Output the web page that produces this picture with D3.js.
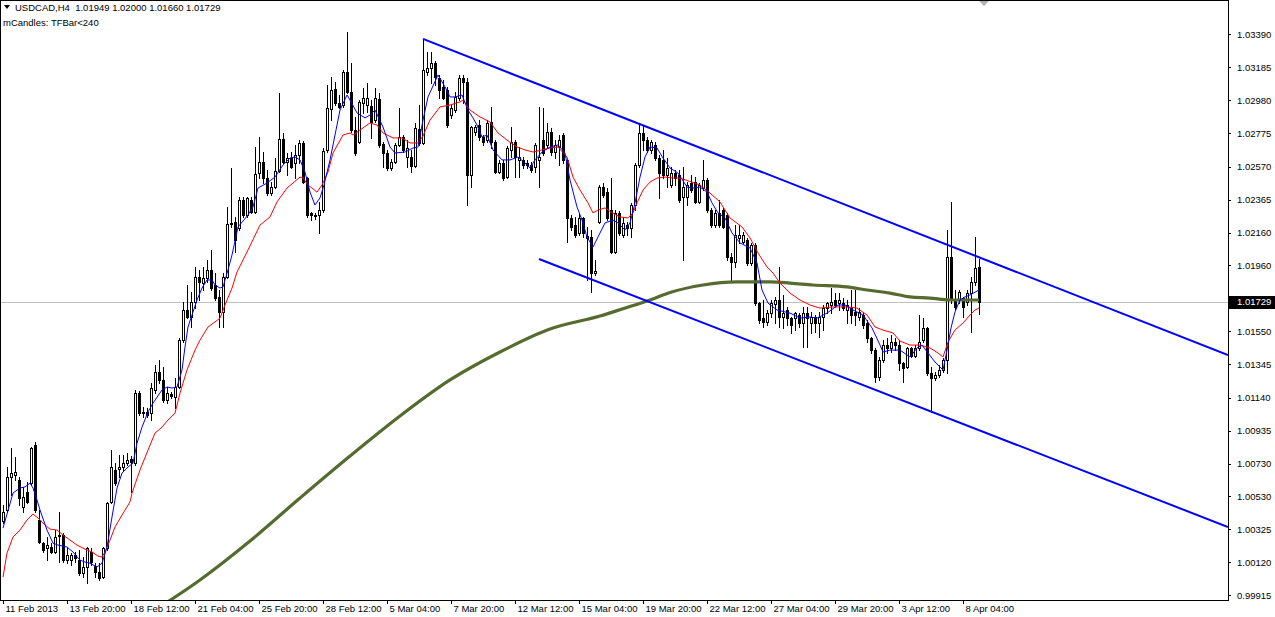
<!DOCTYPE html>
<html><head><meta charset="utf-8">
<script src="https://cdn.jsdelivr.net/npm/d3@7"></script>
<style>
html,body{margin:0;padding:0;background:#fff;}
svg{display:block;}
text{font-family:"Liberation Sans",Arial,sans-serif;}
</style></head><body>
<svg id="chart" width="1275" height="617"></svg>
<script>
// ---------------- DATA ----------------
const symbolTitle = "USDCAD,H4";
const headerOHLC = ["1.01949","1.02000","1.01660","1.01729"];
const indicatorTitle = "mCandles: TFBar<240";

const timeLabels = ["11 Feb 2013","13 Feb 20:00","18 Feb 12:00","21 Feb 04:00","25 Feb 20:00","28 Feb 12:00","5 Mar 04:00","7 Mar 20:00","12 Mar 12:00","15 Mar 04:00","19 Mar 20:00","22 Mar 12:00","27 Mar 04:00","29 Mar 20:00","3 Apr 12:00","8 Apr 04:00"];
const timeLabelBars = [0,16,32,48,64,80,96,112,128,144,160,176,192,208,224,240];

const priceTicks = [1.03390,1.03185,1.02980,1.02775,1.02570,1.02365,1.02160,1.01960,1.01755,1.01550,1.01345,1.01140,1.00935,1.00730,1.00530,1.00325,1.00120,0.99915];

const open = [
1.00376,1.00444,1.00649,1.00661,1.00630,1.00463,1.00556,1.00611,1.00846,1.00382,
1.00239,1.00208,1.00215,1.00184,1.00283,1.00289,1.00134,1.00134,1.00165,1.00134,
1.00053,1.00091,1.00184,1.00097,1.00060,1.00029,1.00208,1.00494,1.00692,1.00698,
1.00710,1.00734,1.00759,1.00734,1.01168,1.01044,1.01051,1.01044,1.01187,1.01299,
1.01249,1.01125,1.01162,1.01143,1.01205,1.01496,1.01682,1.01639,1.01732,1.01887,
1.01849,1.01880,1.01930,1.01837,1.01763,1.01670,1.01887,1.02214,1.02227,1.02190,
1.02363,1.02270,1.02363,1.02289,1.02530,1.02599,1.02499,1.02406,1.02443,1.02543,
1.02740,1.02599,1.02623,1.02592,1.02642,1.02716,1.02499,1.02283,1.02270,1.02270,
1.02301,1.02673,1.02926,1.03050,1.02963,1.02951,1.03156,1.03032,1.02796,1.02722,
1.02963,1.02951,1.02945,1.02858,1.02988,1.02710,1.02654,1.02561,1.02599,1.02704,
1.02753,1.02629,1.02629,1.02574,1.02803,1.02716,1.03156,1.03180,1.03211,1.03118,
1.03063,1.03044,1.02889,1.02920,1.02994,1.03118,1.03094,1.02518,1.02784,1.02827,
1.02753,1.02734,1.02846,1.02722,1.02536,1.02592,1.02505,1.02673,1.02722,1.02611,
1.02611,1.02592,1.02580,1.02567,1.02611,1.02734,1.02704,1.02784,1.02660,1.02691,
1.02765,1.02611,1.02252,1.02208,1.02159,1.02252,1.02128,1.02134,1.01911,1.02227,
1.02443,1.02412,1.02301,1.02041,1.02283,1.02146,1.02208,1.02190,1.02332,1.02580,
1.02778,1.02734,1.02673,1.02704,1.02623,1.02611,1.02518,1.02456,1.02530,1.02518,
1.02382,1.02382,1.02468,1.02474,1.02351,1.02437,1.02487,1.02301,1.02208,1.02283,
1.02301,1.02270,1.02010,1.01980,1.02128,1.02103,1.02115,1.01973,1.02085,1.01725,
1.01632,1.01608,1.01663,1.01719,1.01744,1.01639,1.01682,1.01632,1.01632,1.01651,
1.01601,1.01663,1.01601,1.01639,1.01601,1.01639,1.01694,1.01713,1.01744,1.01725,
1.01725,1.01682,1.01694,1.01670,1.01639,1.01651,1.01601,1.01508,1.01434,1.01267,
1.01373,1.01465,1.01447,1.01484,1.01465,1.01354,1.01330,1.01447,1.01397,1.01447,
1.01496,1.01571,1.01292,1.01261,1.01280,1.01311,1.01373,1.02010,1.01744,1.01744,
1.01756,1.01732,1.01787,1.01856,1.01949];

const high = [
1.00475,1.00710,1.00827,1.00772,1.00649,1.00587,1.00618,1.00834,1.00865,1.00444,
1.00246,1.00277,1.00239,1.00320,1.00432,1.00301,1.00208,1.00177,1.00184,1.00196,
1.00153,1.00215,1.00208,1.00115,1.00115,1.00215,1.00494,1.00815,1.00734,1.00784,
1.00784,1.00796,1.00778,1.01187,1.01181,1.01082,1.01076,1.01230,1.01342,1.01373,
1.01330,1.01205,1.01174,1.01261,1.01508,1.01732,1.01837,1.01794,1.01949,1.01930,
1.01949,1.01992,1.02053,1.01911,1.01806,1.01911,1.02320,1.02561,1.02258,1.02382,
1.02382,1.02382,1.02382,1.02691,1.02753,1.02660,1.02549,1.02474,1.02623,1.03025,
1.02778,1.02654,1.02660,1.02704,1.02734,1.02728,1.02505,1.02289,1.02283,1.02351,
1.02685,1.03075,1.03125,1.03094,1.03013,1.03168,1.03403,1.03211,1.02877,1.02982,
1.03056,1.03087,1.02982,1.03056,1.03025,1.02722,1.02673,1.02617,1.02716,1.02932,
1.02765,1.02734,1.02673,1.02840,1.02951,1.03360,1.03279,1.03279,1.03223,1.03137,
1.03106,1.03063,1.02951,1.03032,1.03137,1.03137,1.03118,1.02821,1.02827,1.02858,
1.02765,1.02858,1.02939,1.02734,1.02611,1.02611,1.02697,1.02815,1.02734,1.02691,
1.02629,1.02611,1.02599,1.02716,1.02939,1.02932,1.02840,1.02809,1.02734,1.02765,
1.02778,1.02623,1.02270,1.02258,1.02283,1.02258,1.02196,1.02177,1.01992,1.02456,
1.02468,1.02437,1.02499,1.02301,1.02295,1.02258,1.02227,1.02345,1.02592,1.02827,
1.02821,1.02753,1.02734,1.02722,1.02642,1.02673,1.02623,1.02567,1.02549,1.02549,
1.02567,1.02474,1.02518,1.02505,1.02468,1.02611,1.02499,1.02314,1.02301,1.02363,
1.02320,1.02283,1.02035,1.02208,1.02208,1.02165,1.02128,1.02097,1.02097,1.01732,
1.01744,1.01682,1.01744,1.01763,1.01949,1.01775,1.01701,1.01639,1.01670,1.01663,
1.01701,1.01701,1.01670,1.01651,1.01670,1.01713,1.01732,1.01818,1.01787,1.01787,
1.01756,1.01744,1.01806,1.01806,1.01694,1.01663,1.01620,1.01515,1.01447,1.01391,
1.01496,1.01509,1.01527,1.01509,1.01496,1.01360,1.01453,1.01453,1.01465,1.01651,
1.01632,1.01577,1.01330,1.01299,1.01342,1.01385,1.02177,1.02351,1.01806,1.01806,
1.01763,1.01806,1.01886,1.02134,1.02000];

const low = [
1.00363,1.00432,1.00537,1.00630,1.00475,1.00432,1.00487,1.00599,1.00432,1.00239,
1.00184,1.00134,1.00177,1.00177,1.00122,1.00122,1.00115,1.00103,1.00122,1.00041,
1.00029,0.99992,1.00103,1.00029,1.00011,1.00023,1.00196,1.00487,1.00599,1.00649,
1.00692,1.00722,1.00556,1.00722,1.01032,1.01020,1.01020,1.01001,1.01168,1.01230,
1.01113,1.01106,1.01137,1.01076,1.01199,1.01484,1.01632,1.01577,1.01694,1.01744,
1.01806,1.01856,1.01806,1.01744,1.01577,1.01577,1.01880,1.02196,1.02041,1.02177,
1.02258,1.02258,1.02283,1.02283,1.02499,1.02468,1.02394,1.02394,1.02437,1.02536,
1.02592,1.02518,1.02561,1.02499,1.02592,1.02468,1.02258,1.02239,1.02245,1.02159,
1.02289,1.02660,1.02858,1.02951,1.02932,1.02939,1.03025,1.02784,1.02642,1.02716,
1.02901,1.02908,1.02747,1.02846,1.02691,1.02567,1.02549,1.02549,1.02592,1.02697,
1.02660,1.02567,1.02536,1.02567,1.02704,1.02710,1.03137,1.03087,1.03075,1.02994,
1.02988,1.02815,1.02871,1.02908,1.02982,1.02963,1.02332,1.02443,1.02765,1.02734,
1.02704,1.02722,1.02685,1.02530,1.02530,1.02487,1.02499,1.02629,1.02505,1.02505,
1.02561,1.02561,1.02536,1.02536,1.02443,1.02642,1.02685,1.02642,1.02623,1.02580,
1.02592,1.02103,1.02177,1.02134,1.02146,1.02134,1.01868,1.01794,1.01899,1.02221,
1.02382,1.02239,1.02035,1.02035,1.02146,1.02134,1.02146,1.02134,1.02301,1.02567,
1.02673,1.02660,1.02654,1.02611,1.02376,1.02499,1.02443,1.02443,1.02456,1.02351,
1.01992,1.02332,1.02412,1.02345,1.02345,1.02425,1.02289,1.02196,1.02196,1.02196,
1.02190,1.01992,1.01856,1.01949,1.02097,1.02097,1.01961,1.01961,1.01713,1.01601,
1.01577,1.01589,1.01639,1.01601,1.01577,1.01571,1.01589,1.01540,1.01558,1.01577,
1.01453,1.01453,1.01540,1.01546,1.01515,1.01558,1.01663,1.01663,1.01701,1.01682,
1.01682,1.01601,1.01601,1.01589,1.01620,1.01571,1.01484,1.01416,1.01236,1.01249,
1.01360,1.01416,1.01422,1.01434,1.01311,1.01236,1.01323,1.01391,1.01391,1.01434,
1.01484,1.01280,1.01051,1.01249,1.01267,1.01299,1.01292,1.01725,1.01682,1.01725,
1.01639,1.01713,1.01546,1.01837,1.01660];

const close = [
1.00432,1.00649,1.00673,1.00680,1.00518,1.00525,1.00494,1.00827,1.00444,1.00246,
1.00196,1.00227,1.00184,1.00277,1.00289,1.00134,1.00165,1.00165,1.00146,1.00053,
1.00091,1.00208,1.00122,1.00060,1.00023,1.00208,1.00487,1.00710,1.00611,1.00710,
1.00734,1.00753,1.00741,1.01168,1.01044,1.01051,1.01032,1.01199,1.01299,1.01249,
1.01125,1.01168,1.01150,1.01205,1.01496,1.01682,1.01639,1.01732,1.01887,1.01856,
1.01880,1.01930,1.01818,1.01756,1.01670,1.01887,1.02214,1.02221,1.02115,1.02363,
1.02270,1.02376,1.02289,1.02524,1.02599,1.02499,1.02406,1.02443,1.02543,1.02740,
1.02599,1.02623,1.02567,1.02642,1.02716,1.02474,1.02270,1.02270,1.02264,1.02301,
1.02666,1.02932,1.03044,1.02963,1.02939,1.03156,1.03032,1.02796,1.02654,1.02970,
1.02994,1.02994,1.02846,1.02994,1.02704,1.02654,1.02561,1.02599,1.02704,1.02753,
1.02673,1.02685,1.02574,1.02809,1.02716,1.03168,1.03180,1.03211,1.03125,1.03044,
1.02994,1.02827,1.02932,1.03001,1.03118,1.03094,1.02518,1.02815,1.02815,1.02753,
1.02722,1.02840,1.02722,1.02536,1.02592,1.02499,1.02685,1.02722,1.02629,1.02629,
1.02580,1.02580,1.02549,1.02704,1.02629,1.02654,1.02784,1.02660,1.02704,1.02734,
1.02611,1.02252,1.02196,1.02146,1.02252,1.02159,1.02140,1.01911,1.01924,1.02443,
1.02394,1.02252,1.02041,1.02283,1.02159,1.02221,1.02190,1.02332,1.02580,1.02778,
1.02734,1.02673,1.02722,1.02623,1.02530,1.02518,1.02561,1.02530,1.02499,1.02363,
1.02443,1.02456,1.02425,1.02351,1.02456,1.02487,1.02301,1.02208,1.02283,1.02208,
1.02196,1.02010,1.01980,1.02146,1.02146,1.02146,1.01973,1.02085,1.01725,1.01620,
1.01608,1.01663,1.01725,1.01744,1.01639,1.01663,1.01632,1.01589,1.01663,1.01601,
1.01663,1.01632,1.01639,1.01601,1.01639,1.01694,1.01725,1.01732,1.01713,1.01744,
1.01694,1.01713,1.01651,1.01651,1.01670,1.01589,1.01508,1.01434,1.01267,1.01373,
1.01465,1.01447,1.01484,1.01465,1.01354,1.01323,1.01447,1.01397,1.01447,1.01484,
1.01571,1.01292,1.01261,1.01280,1.01311,1.01373,1.02010,1.01744,1.01701,1.01794,
1.01701,1.01787,1.01856,1.01942,1.01729];

// fast moving average (blue) at bar positions
const maFastBars = [0,2.5,4.25,5.5,6.75,7.5,8.5,9.25,11,12.5,
13.75,16,17.5,19.25,20.5,21.75,23.5,24.75,26,27.25,
28.5,29.75,31.25,32.5,33.5,34.75,36.25,37.5,39.75,41,
42.25,43.5,44.75,45.5,46.25,47.5,48.5,49.75,51,52.25,
53,54.25,55,56.25,57.25,58.75,61.25,62.5,63.75,66,
68,70,71.75,73,74.25,75.5,76.75,78,79.25,80.25,
81.75,83,84.25,86,86.75,88.5,90.5,91.75,93,95,
96.75,98,100.5,102.5,103.75,105,106.25,108.75,110.5,111.75,
113,114.75,116.25,117.5,118.5,119.75,121,122.5,124.75,126.75,
128.75,130.5,131.75,133,134.75,136.75,138.75,140.5,141.75,143.5,
144.75,146,147.5,148.75,150.5,152.5,153.75,155.5,156.75,158,
159.25,160.5,161.75,163.5,165,166.75,168.75,171,172.5,174.25,
176,177.25,178.75,180.5,182.25,184.25,186.75,188.5,189.75,191.25,
193.5,196.75,199.25,201.75,203.5,206,208.75,210.5,212.5,215,
217.25,219.25,220,221.75,224.25,226.75,228.5,229.75,231.25,233,
235,236,237,238,239.25,240.5,241.75,244];
const maFastVals = [1.00332,1.00549,1.00580,1.00587,1.00611,1.00580,1.00506,1.00444,1.00320,1.00239,
1.00227,1.00215,1.00184,1.00134,1.00122,1.00115,1.00091,1.00115,1.00215,1.00401,
1.00580,1.00673,1.00710,1.00734,1.00858,1.00957,1.01051,1.01106,1.01187,1.01205,
1.01199,1.01205,1.01311,1.01453,1.01577,1.01670,1.01744,1.01818,1.01868,1.01868,
1.01837,1.01818,1.01825,1.01930,1.02023,1.02196,1.02270,1.02320,1.02437,1.02468,
1.02505,1.02580,1.02623,1.02629,1.02611,1.02536,1.02412,1.02332,1.02376,1.02456,
1.02611,1.02765,1.02920,1.03013,1.02982,1.02902,1.02871,1.02889,1.02920,1.02815,
1.02691,1.02654,1.02660,1.02685,1.02691,1.02858,1.03001,1.03137,1.03063,1.03001,
1.03001,1.03013,1.02920,1.02871,1.02827,1.02753,1.02765,1.02673,1.02611,1.02611,
1.02629,1.02592,1.02561,1.02611,1.02660,1.02691,1.02704,1.02654,1.02487,1.02320,
1.02239,1.02134,1.02072,1.02134,1.02221,1.02239,1.02221,1.02177,1.02221,1.02345,
1.02505,1.02629,1.02691,1.02685,1.02623,1.02561,1.02530,1.02443,1.02437,1.02443,
1.02412,1.02345,1.02283,1.02252,1.02159,1.02097,1.02066,1.01973,1.01806,1.01725,
1.01682,1.01663,1.01632,1.01639,1.01632,1.01663,1.01713,1.01713,1.01682,1.01651,
1.01571,1.01465,1.01422,1.01434,1.01434,1.01391,1.01447,1.01465,1.01416,1.01360,
1.01311,1.01434,1.01571,1.01670,1.01744,1.01763,1.01775,1.01806];

// slower moving average (red)
const maSlowBars = [0,1,2.5,4.25,6,7.5,8.75,10.5,11.75,13.5,
15,16.75,18.5,20.5,22.25,23.75,24.75,25.5,26.75,28,
29.75,31.75,32.25,34.25,36.25,38,39.75,41.25,43,44.25,
46,48,49.25,51.25,53,54.25,55.5,57.25,58.5,61,
64.25,66.75,68.5,71,72.5,74.25,75,76.25,78.5,79.75,
81.25,82.5,85,86.75,87.5,89.25,91.75,93.5,95,97.5,
99.75,101.75,103.75,105,106.75,109.25,111.75,114.25,115,116.75,
119.25,121.75,123.75,126,128.5,130.5,132.5,134.75,136.75,138.75,
141,142.5,144.25,146.25,147.5,148.75,150.5,152.25,154.25,156.25,
157.5,158.5,160,161.75,163.5,165.5,167.5,169.25,174.25,176.75,
179.25,181.75,184.75,186.75,188.75,191,192.5,194.25,196.75,199.25,
201.75,204.25,207.5,211,213.5,216,218,220,222.5,224.25,
226.75,229.25,231.75,233.75,235,236.25,238,240,241.75,243,
244];
const maSlowVals = [1.00029,1.00177,1.00277,1.00320,1.00382,1.00419,1.00395,1.00351,1.00326,1.00320,
1.00289,1.00258,1.00227,1.00202,1.00184,1.00159,1.00153,1.00184,1.00258,1.00339,
1.00413,1.00494,1.00549,1.00692,1.00815,1.00920,1.00957,1.01001,1.01044,1.01168,
1.01311,1.01434,1.01496,1.01577,1.01608,1.01632,1.01713,1.01818,1.01917,1.02041,
1.02208,1.02258,1.02351,1.02437,1.02468,1.02505,1.02499,1.02456,1.02412,1.02456,
1.02536,1.02654,1.02765,1.02778,1.02765,1.02796,1.02840,1.02827,1.02778,1.02747,
1.02747,1.02716,1.02716,1.02759,1.02858,1.02939,1.02951,1.02970,1.02982,1.02920,
1.02877,1.02846,1.02778,1.02734,1.02691,1.02673,1.02660,1.02673,1.02685,1.02691,
1.02629,1.02505,1.02425,1.02345,1.02283,1.02301,1.02314,1.02283,1.02258,1.02252,
1.02283,1.02345,1.02425,1.02474,1.02499,1.02505,1.02499,1.02499,1.02456,1.02406,
1.02351,1.02252,1.02196,1.02128,1.02035,1.01949,1.01911,1.01849,1.01787,1.01744,
1.01713,1.01694,1.01701,1.01701,1.01694,1.01651,1.01577,1.01558,1.01540,1.01490,
1.01465,1.01465,1.01447,1.01416,1.01391,1.01484,1.01558,1.01601,1.01651,1.01682,
1.01694];

// long moving average (thick olive)
const maLongBars = [39.25,49.25,61.75,74.25,86.75,99.25,111.75,124.25,136.75,149.25,155,161.75,166.75,175,183.5,191.75,196.75,202.5,211,216,221.75,226.75,231.75,236.75,244];
const maLongVals = [0.99844,1.00011,1.00252,1.00518,1.00778,1.01026,1.01249,1.01422,1.01564,1.01645,1.01690,1.01744,1.01790,1.01837,1.01856,1.01856,1.01849,1.01837,1.01825,1.01806,1.01787,1.01763,1.01756,1.01744,1.01744];

// channel trend lines (two anchors each, drawn as rays)
const channelUpperBars = [105,159];
const channelUpperPrices = [1.03360,1.02835];
const channelLowerBars = [134,232];
const channelLowerPrices = [1.01998,1.01054];

// ---------------- DRAW ----------------
const W = 1275, H = 617, plotW = 1228, plotH = 600;
const FONT = "9.5px";
const svg = d3.select("#chart");
svg.append("rect").attr("width",W).attr("height",H).attr("fill","#fff");

const lastBar = 306.25;
const x = d3.scaleLinear().domain([-0.75, lastBar]).range([0, plotW]);
const y = d3.scaleLinear().domain([0.99887, 1.03601]).range([plotH, 0]);

svg.append("defs").append("clipPath").attr("id","plotclip")
  .append("rect").attr("x",0).attr("y",0).attr("width",plotW).attr("height",plotH);
const plot = svg.append("g").attr("clip-path","url(#plotclip)");

const n = Math.min(open.length, high.length, low.length, close.length);
const lastClose = close[n-1];

// current price line
plot.append("line")
  .attr("x1",0).attr("x2",plotW)
  .attr("y1",Math.round(y(lastClose))+0.5).attr("y2",Math.round(y(lastClose))+0.5)
  .attr("stroke","#c0c0c0").attr("stroke-width",1).attr("shape-rendering","crispEdges");

// candles
const cg = plot.append("g").attr("shape-rendering","crispEdges");
const idx = d3.range(n);
cg.selectAll("rect.wick").data(idx).join("rect").attr("class","wick")
  .attr("x", i => Math.round(x(i)))
  .attr("width",1)
  .attr("y", i => Math.round(y(high[i])))
  .attr("height", i => Math.max(1, Math.round(y(low[i])) - Math.round(y(high[i])) + 1))
  .attr("fill","#000");
cg.selectAll("rect.body").data(idx).join("rect").attr("class","body")
  .each(function(i){
    const xc = Math.round(x(i));
    const top = Math.round(y(Math.max(open[i],close[i])));
    const bot = Math.round(y(Math.min(open[i],close[i])));
    const s = d3.select(this);
    if (close[i] >= open[i]) {
      s.attr("x", xc-0.5).attr("y", top+0.5).attr("width",2).attr("height", Math.max(0, bot-top))
       .attr("fill","#fff").attr("stroke","#000").attr("stroke-width",1);
    } else {
      s.attr("x", xc-1).attr("y", top).attr("width",3).attr("height", Math.max(1, bot-top+1))
       .attr("fill","#000");
    }
  });

// moving averages
const line = d3.line().x(d => x(d[0])).y(d => y(d[1]));
plot.append("path").datum(d3.zip(maLongBars, maLongVals))
  .attr("d", d3.line().x(d=>x(d[0])).y(d=>y(d[1])).curve(d3.curveMonotoneX))
  .attr("fill","none").attr("stroke","#556b2f").attr("stroke-width",3.2);
plot.append("path").datum(d3.zip(maSlowBars, maSlowVals))
  .attr("d", line).attr("fill","none").attr("stroke","#ff0000").attr("stroke-width",1);
plot.append("path").datum(d3.zip(maFastBars, maFastVals))
  .attr("d", line).attr("fill","none").attr("stroke","#0000ff").attr("stroke-width",1);

// channel rays
function ray(bars, prices){
  const slope = (prices[1]-prices[0])/(bars[1]-bars[0]);
  const endP = prices[0] + slope*(lastBar - bars[0]);
  return [[bars[0],prices[0]],[lastBar,endP]];
}
[ray(channelUpperBars,channelUpperPrices), ray(channelLowerBars,channelLowerPrices)].forEach(seg=>{
  plot.append("path").datum(seg).attr("d", line)
    .attr("fill","none").attr("stroke","#0000ff").attr("stroke-width",2);
});

// frame
svg.append("rect").attr("x",0.5).attr("y",0.5).attr("width",plotW).attr("height",plotH)
  .attr("fill","none").attr("stroke","#000").attr("stroke-width",1).attr("shape-rendering","crispEdges");

// right price axis
const py = Math.round(y(lastClose));
const ay = svg.append("g").attr("transform",`translate(${plotW},0)`)
  .call(d3.axisRight(y).tickValues(priceTicks).tickFormat(d3.format(".5f")).tickSize(3).tickSizeOuter(0));
ay.select(".domain").remove();
ay.selectAll("line").attr("stroke","#000").attr("shape-rendering","crispEdges");
ay.selectAll("text").attr("x",9).attr("fill","#000")
  .style("font-family","'Liberation Sans',Arial,sans-serif").style("font-size",FONT);
// the current-price badge covers any tick label that falls underneath it
ay.selectAll(".tick").filter(d => Math.abs(y(d) - py) < 9).select("text").remove();

// bottom time axis
const ax = svg.append("g").attr("transform",`translate(0,${plotH})`)
  .call(d3.axisBottom(x).tickValues(timeLabelBars).tickFormat((d,k)=>timeLabels[k]).tickSize(4).tickSizeOuter(0));
ax.select(".domain").remove();
ax.selectAll("line").attr("stroke","#000").attr("shape-rendering","crispEdges");
ax.selectAll("text").attr("text-anchor","start").attr("x",2).attr("y",5).attr("fill","#000")
  .style("font-family","'Liberation Sans',Arial,sans-serif").style("font-size",FONT);

// current price label
svg.append("rect").attr("x",plotW+1).attr("y",py-6).attr("width",W-plotW-1).attr("height",13)
  .attr("fill","#000").attr("shape-rendering","crispEdges");
svg.append("text").attr("x",plotW+9).attr("y",py).attr("dy","0.34em")
  .attr("fill","#fff").style("font-size",FONT).text(d3.format(".5f")(lastClose));

// header
svg.append("path").attr("d","M4,5L10,5L7,9Z").attr("fill","#000");
svg.append("text").attr("x",15).attr("y",11).style("font-size",FONT).style("white-space","pre")
  .attr("fill","#000").text(symbolTitle + "  " + headerOHLC.join(" "));
svg.append("text").attr("x",3).attr("y",26).style("font-size",FONT)
  .attr("fill","#000").text(indicatorTitle);

// chart shift marker
svg.append("path").attr("d","M979,1L989,1L984,6Z").attr("fill","#b0b0b0");
</script>
</body></html>
